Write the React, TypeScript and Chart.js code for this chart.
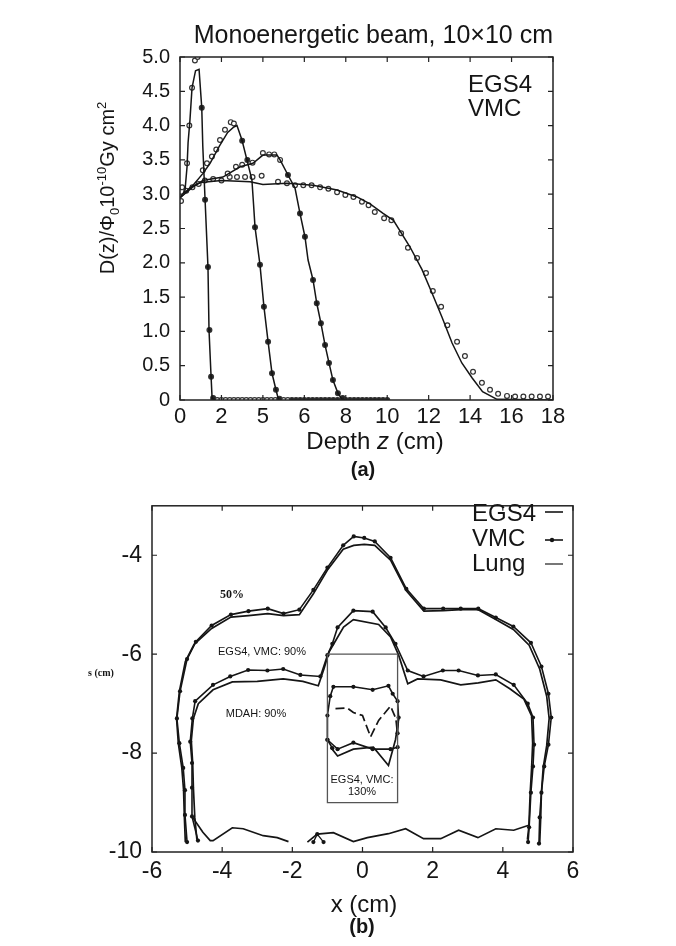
import React, { useEffect, useRef } from "react";
import { Chart, registerables } from "chart.js";
Chart.register(...registerables);

type P = [number, number];

const SANS = "'Liberation Sans', Arial, Helvetica, sans-serif";
const SERIF = "'Liberation Serif', 'Times New Roman', serif";
const INK = "#151515";
const GREY = "#555555";

// ---------------- Panel (a): depth dose ----------------
const A_TITLE = "Monoenergetic beam, 10×10 cm";
const A_X_TICK_LABELS = ["0", "2", "5", "6", "8", "10", "12", "14", "16", "18"];
const A_LEGEND = ["EGS4", "VMC"];

const A_EGS4_1: P[] = [[0,2.95],[0.24,3.05],[0.34,3.4],[0.39,3.75],[0.48,4.08],[0.58,4.55],[0.75,4.8],[0.92,4.82],[1.05,4.26],[1.1,3.7],[1.21,2.92],[1.35,1.94],[1.4,1.02],[1.5,0.34],[1.55,0.02],[1.7,0]];
const A_VMC_1: P[] = [[0.1,3.1],[0.34,3.45],[0.45,4.0],[0.58,4.55],[0.72,4.95],[0.85,5.0],[1.05,4.26],[1.21,2.92],[1.35,1.94],[1.42,1.02],[1.5,0.34],[1.6,0.03]];
const A_EGS4_2: P[] = [[0,2.95],[0.63,3.13],[1.1,3.3],[1.45,3.45],[1.9,3.7],[2.3,3.9],[2.6,3.98],[2.75,4.0],[2.99,3.79],[3.23,3.5],[3.47,3.21],[3.55,2.85],[3.62,2.52],[3.86,1.97],[4.05,1.36],[4.25,0.85],[4.44,0.39],[4.63,0.15],[4.75,0.01],[4.9,0]];
const A_VMC_2: P[] = [[1.1,3.35],[1.3,3.45],[1.54,3.55],[1.75,3.65],[1.93,3.79],[2.17,3.94],[2.45,4.05],[2.6,4.03],[3.0,3.78],[3.25,3.5],[3.62,2.52],[3.86,1.97],[4.05,1.36],[4.25,0.85],[4.44,0.39],[4.63,0.15],[4.8,0.02]];
const A_EGS4_3: P[] = [[0,2.95],[0.6,3.1],[1.1,3.2],[2.07,3.25],[2.9,3.4],[3.52,3.45],[4.0,3.57],[4.68,3.57],[4.83,3.5],[5.21,3.28],[5.55,3.09],[5.79,2.72],[6.03,2.38],[6.18,2.04],[6.42,1.75],[6.6,1.41],[6.8,1.12],[7.0,0.8],[7.19,0.54],[7.38,0.29],[7.62,0.1],[7.82,0.01],[8.0,0]];
const A_VMC_3: P[] = [[2.3,3.3],[2.7,3.4],[3.0,3.43],[3.5,3.46],[4.0,3.6],[4.3,3.58],[4.55,3.58],[4.83,3.5],[5.21,3.28],[5.79,2.72],[6.03,2.38],[6.42,1.75],[6.6,1.41],[6.8,1.12],[7.0,0.8],[7.19,0.54],[7.38,0.29],[7.62,0.1],[7.85,0.03]];
const A_EGS4_4: P[] = [[0,2.95],[0.5,3.1],[1.0,3.17],[2.0,3.2],[3.38,3.18],[4.0,3.14],[5.16,3.16],[6.42,3.13],[7.58,3.06],[8.54,2.96],[9.17,2.86],[9.8,2.72],[10.3,2.62],[11.1,2.23],[11.68,1.9],[12.16,1.56],[12.64,1.21],[13.13,0.83],[13.6,0.54],[14.1,0.32],[14.6,0.12],[15.3,0.01],[18,0]];
const A_VMC_4: P[] = [[0.05,2.9],[0.3,3.05],[0.6,3.1],[0.9,3.15],[1.2,3.2],[1.6,3.22],[2.0,3.2],[2.4,3.25],[2.75,3.25],[3.14,3.25],[3.5,3.25],[3.94,3.27],[4.73,3.18],[5.16,3.16],[5.55,3.13],[5.95,3.13],[6.35,3.13],[6.76,3.1],[7.16,3.08],[7.58,3.03],[7.98,2.99],[8.37,2.96],[8.78,2.89],[9.1,2.84],[9.4,2.74],[9.85,2.65],[10.2,2.62],[10.67,2.43],[11.0,2.22],[11.44,2.07],[11.87,1.85],[12.2,1.59],[12.6,1.36],[12.9,1.09],[13.37,0.85],[13.75,0.64],[14.14,0.41],[14.57,0.25],[14.96,0.15],[15.35,0.09],[15.78,0.06],[16.17,0.05],[16.57,0.05],[16.97,0.05],[17.37,0.05],[17.76,0.05]];
const A_VMC_ZERO_X: number[] = [1.8,2.0,2.2,2.4,2.6,2.8,3.0,3.2,3.4,3.6,3.8,4.0,4.2,4.4,4.6,4.8,5.0,5.2,5.4,5.6,5.8,6.0,6.2,6.4,6.6,6.8,7.0,7.2,7.4,7.6,7.8,8.0,8.2,8.4,8.6,8.8,9.0,9.2,9.4,9.6,9.8,10.0];
// depth beyond which the VMC markers of each beam are drawn as filled dots
const A_FILLED_FROM = [0.95, 2.9, 4.9, 99, 5.3];

// ---------------- Panel (b): isodose lines ----------------
const B_LEGEND = ["EGS4", "VMC", "Lung"];
const B_50_VMC: P[] = [[-5.0,-9.8],[-5.06,-9.25],[-5.06,-8.75],[-5.11,-8.3],[-5.22,-7.8],[-5.29,-7.3],[-5.2,-6.75],[-5.0,-6.1],[-4.75,-5.75],[-4.3,-5.42],[-3.75,-5.2],[-3.25,-5.13],[-2.7,-5.08],[-2.25,-5.18],[-1.8,-5.1],[-1.4,-4.7],[-1.0,-4.25],[-0.55,-3.8],[-0.25,-3.62],[0.05,-3.65],[0.35,-3.72],[0.8,-4.05],[1.25,-4.68],[1.75,-5.08],[2.3,-5.08],[2.8,-5.08],[3.3,-5.08],[3.8,-5.26],[4.3,-5.44],[4.8,-5.77],[5.1,-6.25],[5.3,-6.8],[5.38,-7.28],[5.3,-7.83],[5.18,-8.27],[5.1,-8.8],[5.05,-9.3],[5.03,-9.83]];
const B_50_EGS4: P[] = [[-5.05,-9.8],[-5.08,-9.25],[-5.1,-8.75],[-5.15,-8.3],[-5.25,-7.8],[-5.3,-7.3],[-5.22,-6.75],[-5.05,-6.15],[-4.8,-5.8],[-4.3,-5.48],[-3.75,-5.25],[-3.25,-5.22],[-2.7,-5.18],[-2.25,-5.22],[-1.8,-5.2],[-1.4,-4.78],[-1.0,-4.3],[-0.55,-3.88],[-0.25,-3.8],[0.05,-3.78],[0.35,-3.8],[0.8,-4.1],[1.25,-4.72],[1.75,-5.13],[2.3,-5.12],[2.8,-5.1],[3.3,-5.1],[3.8,-5.3],[4.3,-5.5],[4.75,-5.82],[5.05,-6.3],[5.25,-6.85],[5.32,-7.3],[5.25,-7.85],[5.15,-8.3],[5.1,-8.8],[5.08,-9.3],[5.05,-9.85]];
const B_90_VMC: P[] = [[-4.69,-9.77],[-4.86,-9.28],[-4.86,-8.7],[-4.86,-8.2],[-4.91,-7.77],[-4.85,-7.3],[-4.77,-6.95],[-4.26,-6.62],[-3.77,-6.45],[-3.26,-6.32],[-2.71,-6.33],[-2.26,-6.3],[-1.77,-6.42],[-1.2,-6.45],[-1.0,-6.02],[-0.86,-5.79],[-0.71,-5.46],[-0.26,-5.12],[0.29,-5.14],[0.66,-5.46],[0.94,-5.79],[1.29,-6.33],[1.74,-6.45],[2.29,-6.33],[2.74,-6.33],[3.29,-6.43],[3.8,-6.41],[4.31,-6.62],[4.71,-7.0],[4.86,-7.28],[4.89,-7.83],[4.86,-8.27],[4.8,-8.8],[4.75,-9.5],[4.72,-9.8]];
const B_90_EGS4: P[] = [[-4.72,-9.75],[-4.78,-9.3],[-4.82,-8.7],[-4.84,-8.2],[-4.88,-7.75],[-4.82,-7.3],[-4.68,-7.0],[-4.26,-6.72],[-3.71,-6.56],[-3.0,-6.55],[-2.26,-6.5],[-1.7,-6.55],[-1.26,-6.64],[-1.1,-6.3],[-0.95,-5.95],[-0.54,-5.45],[-0.26,-5.3],[0.46,-5.4],[0.8,-5.65],[1.03,-6.02],[1.29,-6.6],[1.57,-6.5],[2.23,-6.52],[2.8,-6.62],[3.3,-6.58],[3.8,-6.52],[4.2,-6.7],[4.6,-6.91],[4.82,-7.25],[4.85,-7.8],[4.82,-8.3],[4.78,-8.8],[4.74,-9.5],[4.7,-9.75]];
const B_MDAH_LEFT: P[] = [[-4.86,-9.28],[-4.55,-9.6],[-4.34,-9.77],[-4.26,-9.77],[-3.71,-9.51],[-3.4,-9.53],[-2.83,-9.67],[-2.43,-9.71],[-2.11,-9.79]];
const B_MDAH_RIGHT: P[] = [[-1.57,-9.8],[-1.29,-9.64],[-0.83,-9.61],[-0.26,-9.79],[0.14,-9.71],[0.74,-9.63],[1.23,-9.53],[1.74,-9.73],[2.23,-9.73],[2.74,-9.56],[3.29,-9.71],[3.8,-9.53],[4.31,-9.56],[4.74,-9.46]];
const B_SMALL_V: P[] = [[-1.4,-9.8],[-1.29,-9.64],[-1.11,-9.8]];
const B_LUNG_BOX: P[] = [[-1,-6],[1,-6],[1,-9],[-1,-9],[-1,-6]];
const B_130_VMC_TOP: P[] = [[-0.86,-7.9],[-1.0,-7.73],[-1.0,-7.24],[-0.92,-6.85],[-0.83,-6.66],[-0.26,-6.66],[0.29,-6.72],[0.74,-6.64],[0.86,-6.8],[1.0,-6.95],[1.03,-7.28],[1.0,-7.6]];
const B_130_DASH: P[] = [[-0.77,-7.1],[-0.43,-7.09],[-0.26,-7.18],[0,-7.24],[0.23,-7.67],[0.46,-7.34],[0.8,-7.05],[0.95,-7.3],[1.0,-7.63]];
const B_130_VMC_LOW: P[] = [[-1.0,-7.73],[-0.71,-7.92],[-0.26,-7.79],[0.29,-7.92],[0.8,-7.92],[1.0,-7.88]];
const B_130_EGS4_LOW: P[] = [[-0.91,-7.88],[-0.71,-8.06],[-0.26,-7.92],[0.31,-7.88],[0.74,-8.25],[0.94,-7.73],[1.03,-7.3]];

const xy = (pts: P[]) => pts.map(([x, y]) => ({ x, y }));

const solid = (label: string, pts: P[], w = 1.5, color = INK) => ({
  label, data: xy(pts), borderColor: color, borderWidth: w, pointRadius: 0, fill: false, tension: 0,
});
const dotted = (label: string, pts: P[], w = 1.5) => ({
  label, data: xy(pts), borderColor: INK, borderWidth: w, pointRadius: 2.1,
  pointBackgroundColor: INK, pointBorderWidth: 0, fill: false, tension: 0,
});
const circles = (label: string, pts: P[], filledFrom: number) => ({
  label, data: xy(pts), showLine: false, borderColor: INK, pointRadius: 2.4,
  pointBorderWidth: 1.2, pointBorderColor: "#333",
  pointBackgroundColor: (c: any) => (c.raw && c.raw.x >= filledFrom ? "#222" : "#fff"),
});

type TextItem = { parts: { t: string; f: string; dy?: number }[]; x: number; y: number; rot?: boolean; align?: "center" | "left"; color?: string };

function drawRich(ctx: CanvasRenderingContext2D, it: TextItem) {
  ctx.save();
  ctx.translate(it.x, it.y);
  if (it.rot) ctx.rotate(-Math.PI / 2);
  ctx.textBaseline = "alphabetic";
  ctx.textAlign = "left";
  ctx.fillStyle = it.color || INK;
  const widths = it.parts.map((p) => { ctx.font = p.f; return ctx.measureText(p.t).width; });
  const total = widths.reduce((a, b) => a + b, 0);
  let x = it.align === "left" ? 0 : -total / 2;
  it.parts.forEach((p, i) => { ctx.font = p.f; ctx.fillText(p.t, x, p.dy || 0); x += widths[i]; });
  ctx.restore();
}

const framePlugin = {
  id: "frame",
  afterDatasetsDraw(chart: any) {
    const { ctx, chartArea: a, scales } = chart;
    ctx.save();
    ctx.strokeStyle = "#222";
    ctx.lineWidth = 1.5;
    ctx.strokeRect(a.left, a.top, a.right - a.left, a.bottom - a.top);
    ctx.lineWidth = 1.2;
    ctx.beginPath();
    scales.x.ticks.forEach((t: any) => {
      const px = scales.x.getPixelForValue(t.value);
      ctx.moveTo(px, a.bottom); ctx.lineTo(px, a.bottom - 5);
      ctx.moveTo(px, a.top); ctx.lineTo(px, a.top + 5);
    });
    scales.y.ticks.forEach((t: any) => {
      const py = scales.y.getPixelForValue(t.value);
      ctx.moveTo(a.left, py); ctx.lineTo(a.left + 5, py);
      ctx.moveTo(a.right, py); ctx.lineTo(a.right - 5, py);
    });
    ctx.stroke();
    ctx.restore();
  },
};

const textPlugin = (items: TextItem[], extra?: (ctx: CanvasRenderingContext2D) => void) => ({
  id: "texts",
  afterDraw(chart: any) {
    const ctx = chart.ctx as CanvasRenderingContext2D;
    items.forEach((it) => drawRich(ctx, it));
    if (extra) extra(ctx);
  },
});

function topConfig(): any {
  const f20 = `20px ${SANS}`;
  const f13 = `13px ${SANS}`;
  const items: TextItem[] = [
    { parts: [{ t: "D(z)/Φ", f: f20 }, { t: "0", f: f13, dy: 5 }, { t: "10", f: f20 }, { t: "-10", f: f13, dy: -8 }, { t: "Gy cm", f: f20 }, { t: "2", f: f13, dy: -8 }], x: 114, y: 188, rot: true },
    { parts: [{ t: "Depth ", f: `24px ${SANS}` }, { t: "z", f: `italic 24px ${SANS}` }, { t: " (cm)", f: `24px ${SANS}` }], x: 375, y: 449 },
    { parts: [{ t: "(a)", f: `bold 20px ${SANS}` }], x: 363, y: 476 },
    { parts: [{ t: A_LEGEND[0], f: `24px ${SANS}` }], x: 468, y: 92, align: "left" },
    { parts: [{ t: A_LEGEND[1], f: `24px ${SANS}` }], x: 468, y: 116, align: "left" },
  ];
  return {
    type: "line",
    data: {
      datasets: [
        solid("EGS4 1", A_EGS4_1), solid("EGS4 2", A_EGS4_2), solid("EGS4 3", A_EGS4_3), solid("EGS4 4", A_EGS4_4),
        circles("VMC 1", A_VMC_1, A_FILLED_FROM[0]), circles("VMC 2", A_VMC_2, A_FILLED_FROM[1]),
        circles("VMC 3", A_VMC_3, A_FILLED_FROM[2]), circles("VMC 4", A_VMC_4, A_FILLED_FROM[3]),
        circles("VMC 0", A_VMC_ZERO_X.map((x) => [x, 0] as P), A_FILLED_FROM[4]),
      ],
    },
    options: {
      animation: false, responsive: false, devicePixelRatio: 1, events: [],
      layout: { padding: { top: 0, left: 0, right: 123, bottom: 0 } },
      plugins: {
        legend: { display: false }, tooltip: { enabled: false },
        title: { display: true, text: A_TITLE, align: "end", fullSize: false, color: INK, font: { family: SANS, size: 25, weight: "normal" }, padding: { top: 21, bottom: 6 } },
      },
      scales: {
        x: {
          type: "linear", min: 0, max: 18,
          afterFit: (s: any) => { s.height = 82; },
          grid: { display: false, drawTicks: false }, border: { display: false },
          ticks: { stepSize: 2, padding: 4, color: INK, font: { family: SANS, size: 22 }, maxRotation: 0, autoSkip: false,
            callback: (v: number) => A_X_TICK_LABELS[Math.round(v / 2)] ?? "" },
        },
        y: {
          type: "linear", min: 0, max: 5,
          afterFit: (s: any) => { s.width = 180; },
          grid: { display: false, drawTicks: false }, border: { display: false },
          ticks: { stepSize: 0.5, padding: 10, color: INK, font: { family: SANS, size: 20 },
            callback: (v: number) => (v === 0 ? "0" : v.toFixed(1)) },
        },
      },
    },
    plugins: [framePlugin, textPlugin(items)],
  };
}

function bottomConfig(): any {
  const f11 = `11px ${SANS}`;
  const items: TextItem[] = [
    { parts: [{ t: "x (cm)", f: `24px ${SANS}` }], x: 364, y: 430 },
    { parts: [{ t: "(b)", f: `bold 20px ${SANS}` }], x: 362, y: 451 },
    { parts: [{ t: "s (cm)", f: `bold 10px ${SERIF}` }], x: 101, y: 194 },
    { parts: [{ t: "50%", f: `bold 12px ${SERIF}` }], x: 232, y: 116 },
    { parts: [{ t: "EGS4, VMC: 90%", f: f11 }], x: 262, y: 173 },
    { parts: [{ t: "MDAH: 90%", f: f11 }], x: 256, y: 235 },
    { parts: [{ t: "EGS4, VMC:", f: f11 }], x: 362, y: 301 },
    { parts: [{ t: "130%", f: f11 }], x: 362, y: 313 },
    { parts: [{ t: B_LEGEND[0], f: `24px ${SANS}` }], x: 472, y: 39, align: "left" },
    { parts: [{ t: B_LEGEND[1], f: `24px ${SANS}` }], x: 472, y: 64, align: "left" },
    { parts: [{ t: B_LEGEND[2], f: `24px ${SANS}` }], x: 472, y: 89, align: "left" },
  ];
  const legendSamples = (ctx: CanvasRenderingContext2D) => {
    ctx.save();
    ctx.lineWidth = 1.6;
    ctx.strokeStyle = INK;
    ctx.beginPath(); ctx.moveTo(545, 30); ctx.lineTo(563, 30); ctx.stroke();
    ctx.beginPath(); ctx.moveTo(545, 58); ctx.lineTo(563, 58); ctx.stroke();
    ctx.fillStyle = INK; ctx.beginPath(); ctx.arc(552, 58, 2.2, 0, Math.PI * 2); ctx.fill();
    ctx.strokeStyle = GREY;
    ctx.beginPath(); ctx.moveTo(545, 82); ctx.lineTo(563, 82); ctx.stroke();
    ctx.restore();
  };
  return {
    type: "line",
    data: {
      datasets: [
        { ...solid("Lung", B_LUNG_BOX, 1.3, GREY) },
        solid("EGS4 50%", B_50_EGS4, 1.7), dotted("VMC 50%", B_50_VMC, 1.6),
        solid("EGS4 90%", B_90_EGS4, 1.7), dotted("VMC 90%", B_90_VMC, 1.6),
        solid("MDAH 90% a", B_MDAH_LEFT, 1.7), solid("MDAH 90% b", B_MDAH_RIGHT, 1.7), dotted("VMC small", B_SMALL_V, 1.3),
        dotted("VMC 130% a", B_130_VMC_TOP, 1.6), { ...solid("130% dash", B_130_DASH, 1.7), borderDash: [9, 4] },
        dotted("VMC 130% b", B_130_VMC_LOW, 1.6), solid("EGS4 130%", B_130_EGS4_LOW, 1.7),
      ],
    },
    options: {
      animation: false, responsive: false, devicePixelRatio: 1, events: [],
      layout: { padding: { top: 10, left: 0, right: 103, bottom: 0 } },
      plugins: { legend: { display: false }, tooltip: { enabled: false }, title: { display: false } },
      scales: {
        x: {
          type: "linear", min: -6, max: 6,
          afterFit: (s: any) => { s.height = 94; },
          grid: { display: false, drawTicks: false }, border: { display: false },
          ticks: { stepSize: 2, padding: 6, color: INK, font: { family: SANS, size: 23 }, maxRotation: 0, autoSkip: false,
            callback: (v: number) => String(v) },
        },
        y: {
          type: "linear", min: -10, max: -3,
          afterFit: (s: any) => { s.width = 152; },
          grid: { display: false, drawTicks: false }, border: { display: false },
          ticks: { stepSize: 2, includeBounds: false, padding: 10, color: INK, font: { family: SANS, size: 23 },
            callback: (v: number) => (v % 2 === 0 ? String(v) : "") },
        },
      },
    },
    plugins: [framePlugin, textPlugin(items, legendSamples)],
  };
}

export default function App() {
  const topRef = useRef<HTMLCanvasElement>(null);
  const botRef = useRef<HTMLCanvasElement>(null);
  useEffect(() => {
    const c1 = new Chart(topRef.current as HTMLCanvasElement, topConfig());
    const c2 = new Chart(botRef.current as HTMLCanvasElement, bottomConfig());
    return () => { c1.destroy(); c2.destroy(); };
  }, []);
  return (
    <div style={{ position: "absolute", left: 0, top: 0, width: 676, height: 946, background: "#fff" }}>
      <canvas ref={topRef} width={676} height={482} style={{ position: "absolute", left: 0, top: 0, width: 676, height: 482 }} />
      <canvas ref={botRef} width={676} height={464} style={{ position: "absolute", left: 0, top: 482, width: 676, height: 464 }} />
    </div>
  );
}
